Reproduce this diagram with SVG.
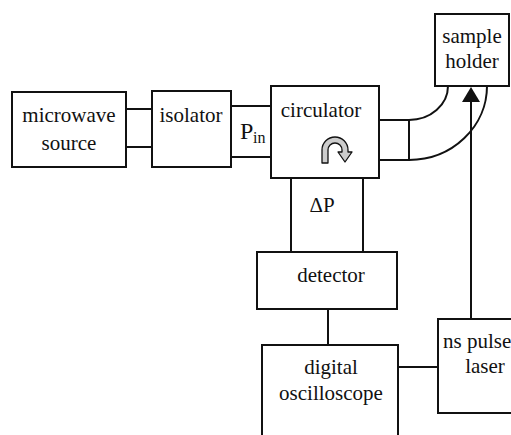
<svg xmlns="http://www.w3.org/2000/svg" width="511" height="435" viewBox="0 0 511 435">
<style>
.box{fill:#fff;stroke:#111;stroke-width:2}
.ln{fill:none;stroke:#111;stroke-width:2}
.t{font-family:'Liberation Serif','DejaVu Serif','Times New Roman',Times,serif;font-size:21px;fill:#111;text-anchor:middle}
.s{font-family:'Liberation Serif','DejaVu Serif','Times New Roman',Times,serif;fill:#111}
</style>
<rect width="511" height="435" fill="#fff"/>
<g id="connectors">
<line class="ln" x1="126" y1="109" x2="152" y2="109"/>
<line class="ln" x1="126" y1="147" x2="152" y2="147"/>
<line class="ln" x1="231" y1="106" x2="271" y2="106"/>
<line class="ln" x1="231" y1="157" x2="271" y2="157"/>
<line class="ln" x1="379" y1="120" x2="409" y2="120"/>
<line class="ln" x1="379" y1="160" x2="409" y2="160"/>
<line class="ln" x1="409" y1="120" x2="409" y2="160"/>
<path class="ln" d="M409,120 A39,34 0 0 0 448,86"/>
<path class="ln" d="M409,160 A78,74 0 0 0 487,86"/>
<line class="ln" x1="291" y1="178" x2="291" y2="252"/>
<line class="ln" x1="363" y1="178" x2="363" y2="252"/>
<line class="ln" x1="328" y1="309" x2="328" y2="345"/>
<line class="ln" x1="397" y1="367" x2="438" y2="367"/>
<line class="ln" x1="471" y1="319" x2="471" y2="100"/>
<polygon points="471,87 462,102 480,102" fill="#111"/>
</g>
<g id="microwave-source">
<rect class="box" x="12" y="92" width="114" height="75"/>
<text class="t" x="69" y="122">microwave</text>
<text class="t" x="69" y="150">source</text>
</g>
<g id="isolator">
<rect class="box" x="152" y="91" width="79" height="76"/>
<text class="t" x="191" y="122">isolator</text>
</g>
<g id="pin-label">
<text class="s" font-size="24" x="240" y="139">P</text>
<text class="s" font-size="16" x="253" y="143">in</text>
</g>
<g id="circulator">
<rect class="box" x="271" y="86" width="108" height="92"/>
<text class="t" x="321" y="117">circulator</text>
<path d="M322,163 L322,150 A13,13 0 0 1 348,150 L348,152 L352,152 L345,162 L338,152 L342,152 L342,150 A7,7 0 0 0 328,150 L328,163 Z" fill="#ccc" stroke="#111" stroke-width="1.3" stroke-linejoin="round"/>
</g>
<g id="delta-p">
<text class="t" x="322" y="212" font-size="22">ΔP</text>
</g>
<g id="sample-holder">
<rect class="box" x="435" y="14" width="74" height="72"/>
<text class="t" x="472" y="43">sample</text>
<text class="t" x="472" y="68">holder</text>
</g>
<g id="detector">
<rect class="box" x="257" y="252" width="140" height="57"/>
<text class="t" x="331" y="282">detector</text>
</g>
<g id="digital-oscilloscope">
<rect class="box" x="262" y="345" width="136" height="100"/>
<text class="t" x="331" y="374">digital</text>
<text class="t" x="331" y="400">oscilloscope</text>
</g>
<g id="ns-pulse-laser">
<rect class="box" x="438" y="319" width="94" height="94"/>
<text class="t" x="443" y="348" style="text-anchor:start">ns pulse</text>
<text class="t" x="485" y="373">laser</text>
</g>
</svg>
